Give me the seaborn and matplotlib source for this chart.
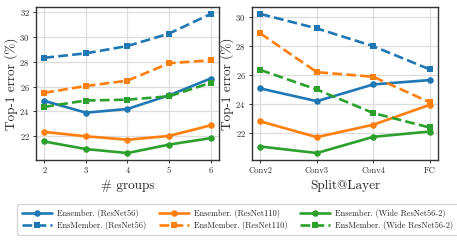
import numpy as np
import pandas as pd
import matplotlib
matplotlib.use('Agg')
import matplotlib.pyplot as plt
import seaborn as sns

# data
groups = [2, 3, 4, 5, 6]
layers = ['Conv2', 'Conv3', 'Conv4', 'FC']

models = ['ResNet56', 'ResNet110', 'Wide ResNet56-2']
colors = ['#1f77b4', '#ff7f0e', '#2ca02c']

# left panel: error vs number of groups
ens_groups = {
    'ResNet56': [24.85, 23.9, 24.2, 25.3, 26.65],
    'ResNet110': [22.35, 22.0, 21.72, 22.03, 22.88],
    'Wide ResNet56-2': [21.58, 20.97, 20.65, 21.33, 21.85],
}
mem_groups = {
    'ResNet56': [28.32, 28.68, 29.27, 30.27, 31.85],
    'ResNet110': [25.5, 26.05, 26.48, 27.88, 28.12],
    'Wide ResNet56-2': [24.37, 24.88, 24.95, 25.22, 26.3],
}

# right panel: error vs split layer
ens_layer = {
    'ResNet56': [25.07, 24.19, 25.35, 25.65],
    'ResNet110': [22.79, 21.7, 22.56, 23.93],
    'Wide ResNet56-2': [21.05, 20.6, 21.72, 22.09],
}
mem_layer = {
    'ResNet56': [30.23, 29.23, 28.0, 26.4],
    'ResNet110': [28.88, 26.2, 25.88, 24.12],
    'Wide ResNet56-2': [26.35, 25.0, 23.37, 22.37],
}

sns.set_style('whitegrid')
plt.rcParams['font.family'] = ['cmr10', 'DejaVu Serif']
plt.rcParams['mathtext.fontset'] = 'cm'
plt.rcParams['axes.formatter.use_mathtext'] = True

fig = plt.figure(figsize=(4.57, 2.42), dpi=100)
ax1 = fig.add_axes([36 / 457, 1 - 160 / 242, 183 / 457, 153 / 242])
ax2 = fig.add_axes([252 / 457, 1 - 160 / 242, 186 / 457, 153 / 242])

lw = 1.9
ms = 4.7
for m, c in zip(models, colors):
    sns.lineplot(x=groups, y=ens_groups[m], ax=ax1, color=c, marker='o',
                 markersize=ms, markeredgewidth=0, linewidth=lw,
                 label='Ensember. (%s)' % m, legend=False)
    sns.lineplot(x=groups, y=mem_groups[m], ax=ax1, color=c, marker='s',
                 markersize=ms, markeredgewidth=0, linewidth=lw, linestyle='--',
                 label='EnsMember. (%s)' % m, legend=False)
    sns.lineplot(x=np.arange(len(layers)), y=ens_layer[m], ax=ax2, color=c,
                 marker='o', markersize=ms, markeredgewidth=0, linewidth=lw,
                 legend=False)
    sns.lineplot(x=np.arange(len(layers)), y=mem_layer[m], ax=ax2, color=c,
                 marker='s', markersize=ms, markeredgewidth=0, linewidth=lw,
                 linestyle='--', legend=False)

ax1.set_xticks(groups)
ax1.set_xticklabels([str(g) for g in groups])
ax1.set_yticks([22, 24, 26, 28, 30, 32])
ax2.set_xticks(np.arange(len(layers)))
ax2.set_xticklabels(layers)
ax2.set_yticks([22, 24, 26, 28, 30])

for ax, xl in [(ax1, '# groups'), (ax2, 'Split@Layer')]:
    ax.set_xlabel(xl, fontsize=9.5, labelpad=4)
    ax.set_ylabel('Top-1 error (%)', fontsize=9.5, labelpad=1)
    ax.tick_params(labelsize=6.2, length=2.5, width=0.7, pad=2,
                   bottom=True, left=True, color='#333333')
    ax.grid(color='#dddddd', linewidth=0.9)
    for s in ax.spines.values():
        s.set_color('#333333')
        s.set_linewidth(1.0)

h, l = ax1.get_legend_handles_labels()
fig.legend(h, l, ncol=3, loc='lower center', bbox_to_anchor=(0.52, 0.01),
           fontsize=6, frameon=True, handlelength=3.6, handletextpad=0.6,
           columnspacing=1.5, labelspacing=0.45, borderpad=0.6,
           edgecolor='#cccccc')

fig.savefig('out.png', dpi=100)
